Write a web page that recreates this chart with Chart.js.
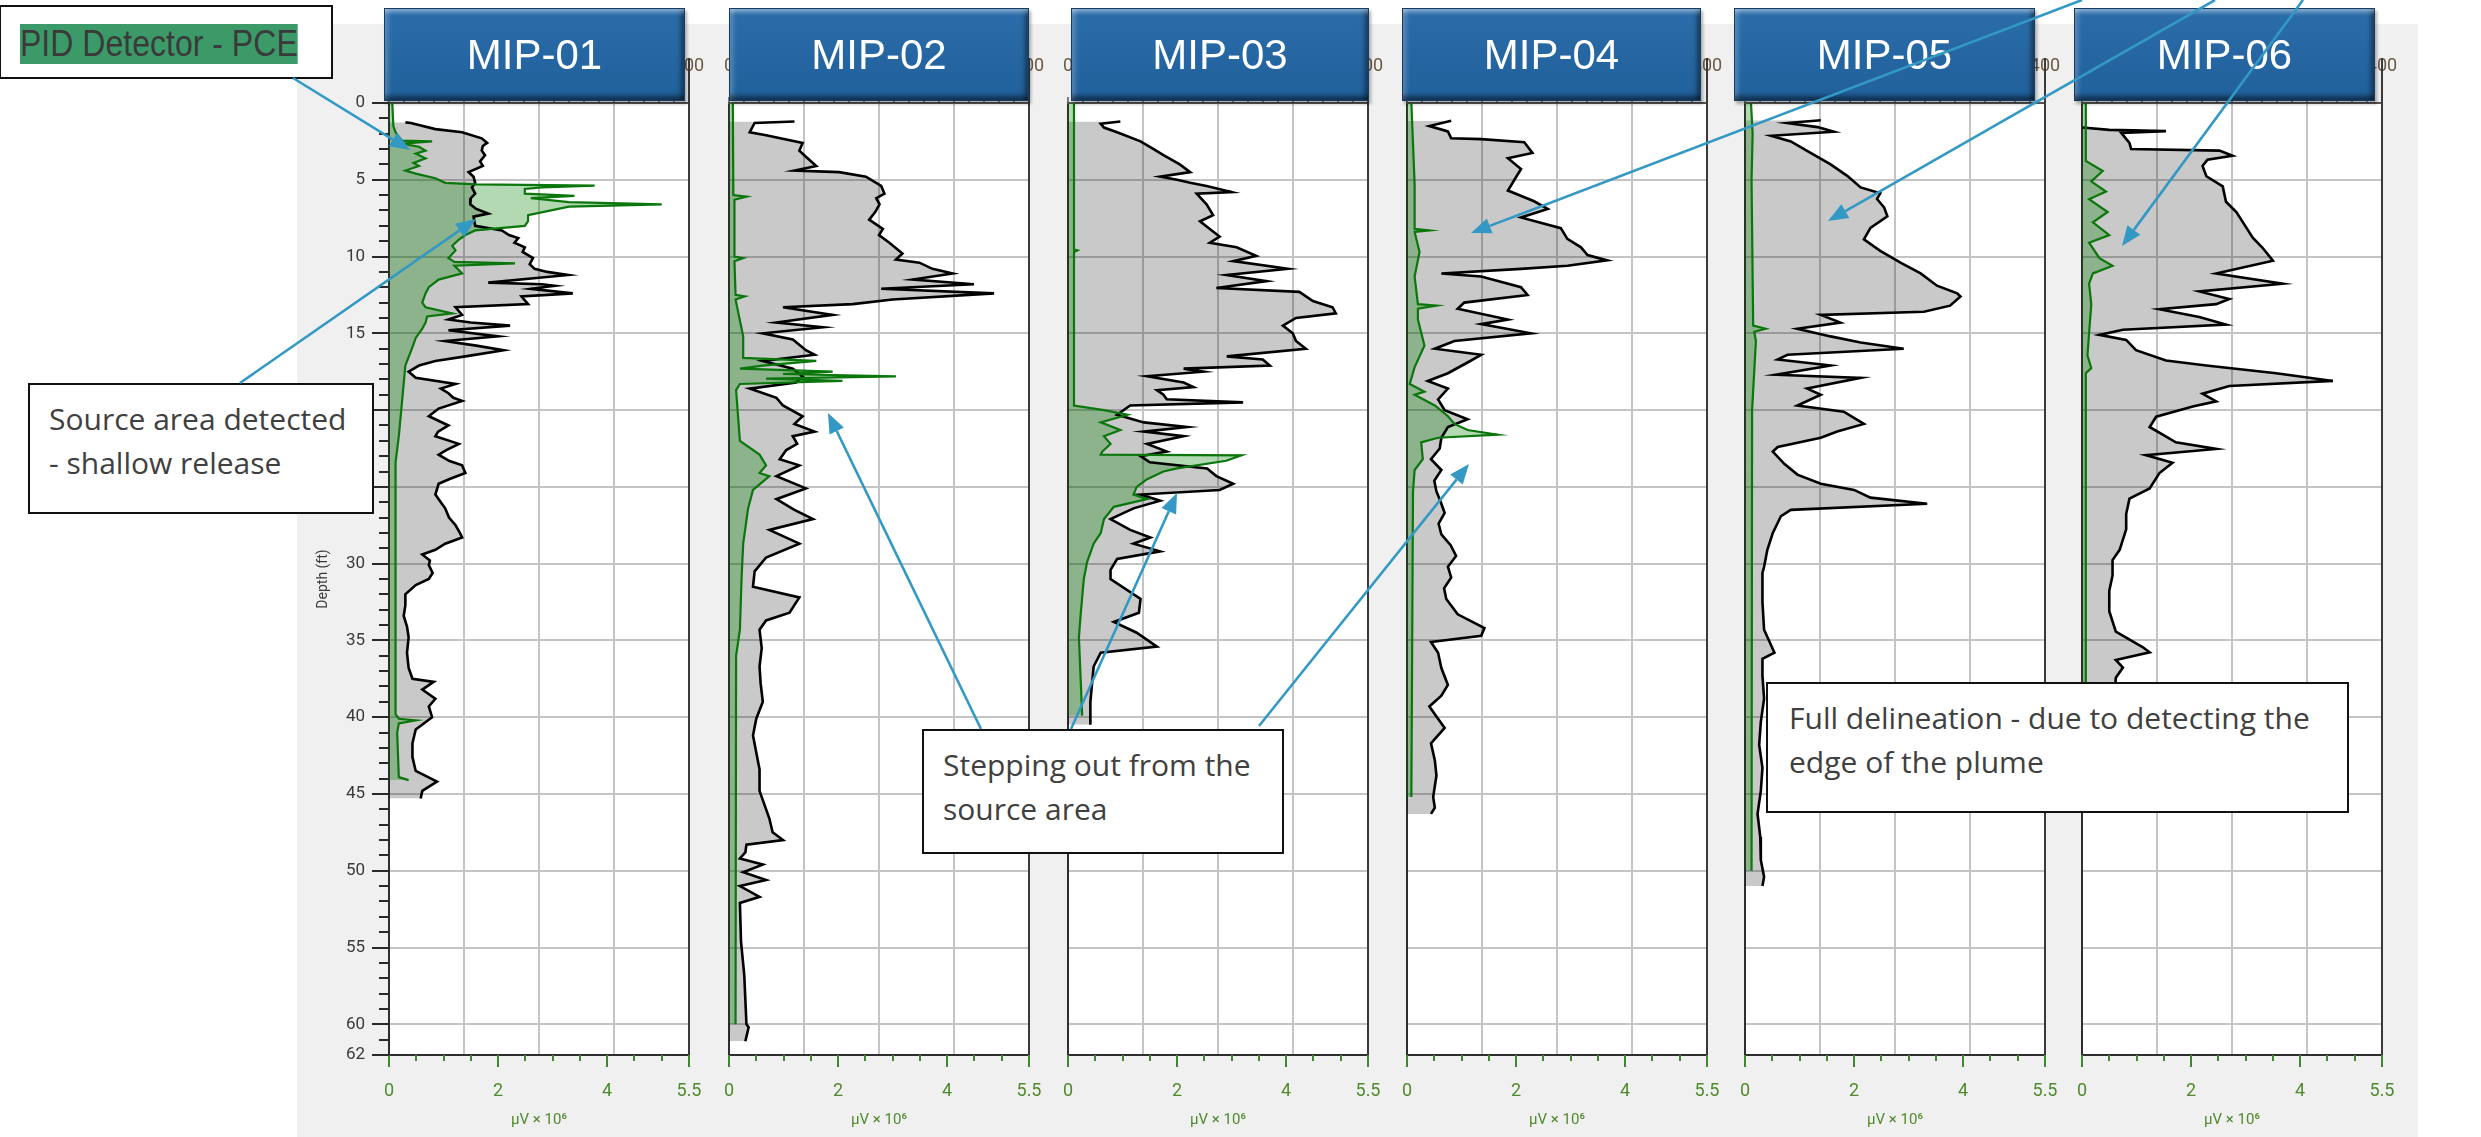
<!DOCTYPE html>
<html>
<head>
<meta charset="utf-8">
<script src="https://cdn.jsdelivr.net/npm/chart.js@4.4.1/dist/chart.umd.min.js"></script>
<style>
  body { margin: 0; width: 2481px; height: 1137px; background: #fff; position: relative; overflow: hidden; font-family: 'Open Sans', sans-serif; }
  #bg { position: absolute; left: 297px; top: 24px; width: 2121px; height: 1113px; background: #f0f0f0; }
  canvas { position: absolute; top: 0; }
  .title { position: absolute; top: 8px; height: 93px; box-sizing: border-box; background: linear-gradient(#2b6daa, #20609b); border: 1px solid #163d66;
    box-shadow: inset 0 6px 4px -3px rgba(255,255,255,.45), inset 0 -7px 5px -3px rgba(0,0,0,.5), inset 7px 0 5px -4px rgba(255,255,255,.25), inset -7px 0 5px -4px rgba(0,0,0,.45), 2px 3px 3px rgba(0,0,0,.3);
    color: #fff; font: 42px 'Liberation Sans', Arial, sans-serif; display: flex; align-items: center; justify-content: center; }
  .note { position: absolute; box-sizing: border-box; background: #fff; border: 2px solid #111; color: #404040; font-size: 30px; line-height: 44px; }
  #pid { position: absolute; left: 19px; top: 17px; height: 40px; background: #3b9a68; color: #3a3a3a; font: 36px 'Liberation Sans', Arial, sans-serif; line-height: 40px; transform-origin: left top; transform: scaleX(0.89); white-space: nowrap; }
  svg { position: absolute; left: 0; top: 0; }
</style>
</head>
<body>
<div id="bg"></div>

<script>
const wells = ['MIP-01', 'MIP-02', 'MIP-03', 'MIP-04', 'MIP-05', 'MIP-06'];
const depthLabels = [0, 5, 10, 15, 20, 25, 30, 35, 40, 45, 50, 55, 60, 62];
const valueLabels = [0, 2, 4, 5.5];
const topLabels = [0, 100, 200, 300, 400];
const topGrid = [100, 200, 300];

// [depth (ft), signal (µV x 10^6)]
const mip01Black = [[1.26,0.30],[1.3,0.4],[1.7,0.85],[1.9,1.34],[2.3,1.7],[2.6,1.8],[2.8,1.72],[3.1,1.7],[3.4,1.76],[3.8,1.67],[4.1,1.72],[4.5,1.46],[4.8,1.55],[5.2,1.58],[5.5,1.52],[5.9,1.58],[6.2,1.5],[6.6,1.49],[6.9,1.6],[7.2,1.82],[7.4,1.55],[8.0,1.58],[8.3,2.07],[8.6,2.2],[8.8,2.37],[9.1,2.3],[9.4,2.49],[9.7,2.45],[10.1,2.64],[10.5,2.58],[10.8,2.67],[11.0,2.9],[11.2,3.28],[11.4,2.7],[11.7,1.82],[11.8,2.8],[11.9,3.04],[12.1,2.6],[12.4,3.37],[12.6,2.43],[13.1,2.55],[13.3,1.22],[13.8,1.34],[14.1,1.09],[14.3,1.5],[14.5,2.22],[14.8,1.09],[15.2,2.0],[15.5,1.03],[15.8,1.6],[16.1,2.1],[16.5,1.4],[16.8,0.85],[17.1,0.55],[17.5,0.36],[17.9,0.49],[18.3,1.22],[18.6,0.95],[18.9,1.09],[19.2,1.18],[19.4,1.34],[19.9,0.91],[20.4,0.73],[21.0,1.09],[21.4,0.9],[21.7,0.85],[22.2,1.28],[22.6,1.05],[22.9,0.91],[23.3,1.1],[23.6,1.34],[24.1,1.4],[24.5,1.1],[24.8,0.91],[25.5,0.85],[26.0,0.95],[26.4,1.03],[27.0,1.1],[27.5,1.22],[28.0,1.3],[28.3,1.34],[28.7,1.03],[29.1,0.85],[29.4,0.61],[29.8,0.75],[30.1,0.73],[30.6,0.8],[31.0,0.73],[31.4,0.49],[32.0,0.30],[32.7,0.3],[33.4,0.27],[34.1,0.33],[34.8,0.36],[35.8,0.33],[36.8,0.36],[37.5,0.43],[37.7,0.82],[38.2,0.61],[38.8,0.85],[39.3,0.73],[40.0,0.79],[40.8,0.49],[41.7,0.43],[42.6,0.43],[43.5,0.49],[44.2,0.88],[44.8,0.61],[45.3,0.58]];
const mip01Pid = [[0,0.06],[1.5,0.08],[1.9,0.12],[2.2,0.18],[2.45,0.24],[2.5,0.79],[2.65,0.24],[2.85,0.55],[3.1,0.67],[3.3,0.49],[3.6,0.67],[3.9,0.45],[4.1,0.55],[4.4,0.3],[4.6,0.49],[4.9,0.85],[5.2,1.03],[5.3,1.6],[5.38,3.77],[5.5,2.8],[5.6,2.49],[5.9,2.49],[6.05,3.4],[6.2,2.6],[6.45,3.3],[6.6,5.0],[6.75,3.3],[7.3,2.55],[7.7,2.55],[8.0,2.49],[8.3,1.58],[8.6,1.4],[8.9,1.28],[9.3,1.16],[9.6,1.22],[10.1,1.09],[10.35,1.2],[10.45,2.31],[10.6,1.2],[11.1,1.34],[11.5,0.91],[12.0,0.73],[12.4,0.67],[13.0,0.61],[13.3,0.67],[13.7,1.16],[13.9,0.7],[14.3,0.67],[14.7,0.61],[15.3,0.49],[15.9,0.43],[17.1,0.3],[19.4,0.24],[21.7,0.18],[23.4,0.12],[30,0.12],[39.8,0.12],[40.1,0.18],[40.2,0.49],[40.4,0.18],[41.0,0.15],[43.9,0.18],[44.1,0.36]];

const mip02Black = [[1.2,1.2],[1.3,0.47],[1.9,0.38],[2.1,0.68],[2.6,1.35],[3.1,1.29],[3.5,1.41],[4.1,1.6],[4.4,1.2],[4.5,2.02],[4.8,2.51],[5.4,2.79],[5.9,2.85],[6.2,2.7],[6.6,2.76],[7.1,2.68],[7.6,2.57],[8.2,2.82],[8.6,2.75],[9.1,2.94],[9.8,3.18],[10.2,3.06],[10.4,3.49],[10.8,3.73],[11.1,4.1],[11.5,3.37],[11.8,4.49],[12.1,2.79],[12.4,4.86],[12.8,3.0],[13.1,2.27],[13.3,0.99],[13.8,1.9],[14.3,0.87],[14.6,1.72],[15.0,0.62],[15.4,1.17],[16.1,1.41],[16.4,1.57],[16.8,0.62],[17.3,1.17],[17.8,1.35],[18.2,1.23],[18.6,0.38],[19.2,0.87],[19.7,0.99],[20.4,1.35],[20.9,1.2],[21.4,1.57],[21.7,1.17],[22.2,1.25],[22.6,1.05],[23.2,0.93],[23.6,1.29],[24.3,0.87],[25.1,1.41],[25.8,0.87],[26.5,1.2],[27.1,1.54],[27.8,0.74],[28.7,1.29],[29.6,0.68],[30.5,0.47],[31.5,0.44],[32.2,1.29],[33.2,1.11],[33.7,0.68],[34.3,0.56],[35.5,0.6],[36.7,0.56],[37.8,0.58],[39.0,0.62],[40.1,0.5],[41.2,0.44],[42.3,0.5],[43.4,0.56],[44.8,0.56],[46.6,0.74],[47.5,0.8],[48.0,0.99],[48.3,0.32],[48.8,0.3],[49.2,0.2],[49.6,0.62],[50.1,0.26],[50.6,0.68],[51.0,0.2],[51.7,0.56],[52.1,0.2],[54.6,0.22],[56.8,0.28],[60,0.32],[60.2,0.36],[61.1,0.3]];
const mip02Pid = [[0,0.07],[6.0,0.08],[6.1,0.32],[6.3,0.1],[10.0,0.1],[10.1,0.26],[10.3,0.1],[12.5,0.12],[12.6,0.29],[12.8,0.12],[15.2,0.26],[16.6,0.26],[16.8,1.6],[17.1,0.62],[17.3,0.2],[17.5,1.9],[17.65,0.99],[17.8,3.06],[17.95,0.68],[18.1,2.08],[18.3,0.2],[18.7,0.13],[22.0,0.2],[22.9,0.56],[23.6,0.68],[24.1,0.56],[24.3,0.74],[25.2,0.44],[26.4,0.35],[28.7,0.26],[31,0.23],[34.3,0.2],[36,0.13],[60,0.12]];

const mip03Black = [[1.2,0.96],[1.35,0.6],[1.6,0.66],[1.9,0.9],[2.5,1.33],[3.0,1.57],[3.4,1.75],[4.0,2.05],[4.5,2.24],[4.8,1.69],[5.0,2.0],[5.2,2.24],[5.4,2.54],[5.8,3.0],[5.9,2.36],[6.6,2.54],[7.3,2.66],[7.7,2.42],[8.2,2.6],[8.7,2.78],[9.1,2.6],[9.4,3.09],[9.95,3.45],[10.3,3.03],[10.8,4.03],[11.2,2.91],[11.6,3.64],[12.05,2.72],[12.3,4.24],[12.9,4.49],[13.3,4.85],[13.7,4.91],[14.0,4.18],[14.5,3.94],[15.0,4.12],[15.5,4.18],[16.0,4.36],[16.5,2.91],[16.7,3.57],[17.1,3.7],[17.3,2.12],[17.5,2.48],[17.8,1.45],[18.2,2.12],[18.5,2.3],[18.7,1.63],[19.0,1.75],[19.3,1.81],[19.5,3.21],[19.7,1.14],[20.3,0.9],[20.8,1.39],[21.1,2.18],[21.4,1.39],[21.7,2.12],[22.2,1.45],[22.7,1.81],[23.0,1.33],[23.4,1.5],[23.8,2.55],[24.3,2.72],[24.8,3.03],[25.2,2.78],[25.5,1.33],[25.9,1.69],[26.4,1.2],[27.1,0.78],[27.8,1.14],[28.3,1.51],[28.7,1.2],[29.2,1.69],[29.7,0.9],[30.4,0.78],[31.0,0.78],[32.3,1.33],[33.2,1.3],[33.8,0.84],[34.5,1.26],[35.4,1.63],[35.8,0.6],[36.7,0.47],[39.0,0.41],[40.5,0.41]];
const mip03Pid = [[0,0.11],[9.55,0.11],[9.6,0.17],[9.7,0.11],[19.7,0.11],[20.0,0.66],[20.3,1.09],[20.8,0.6],[21.3,0.96],[21.7,0.66],[22.2,0.78],[22.7,0.63],[22.9,0.6],[22.95,3.18],[23.3,2.9],[23.8,2.0],[24.0,1.75],[24.5,1.45],[25.0,1.26],[25.5,1.2],[25.8,1.45],[26.3,0.84],[27.1,0.66],[28.0,0.6],[28.7,0.47],[29.9,0.35],[31.0,0.29],[33.4,0.23],[34.8,0.2],[39.9,0.26]];

const mip04Black = [[1.15,0.81],[1.5,0.41],[1.85,0.75],[2.3,0.81],[2.35,1.36],[2.55,2.15],[3.25,2.3],[3.6,1.85],[4.3,2.09],[5.0,1.97],[5.7,1.85],[6.4,2.33],[6.9,2.58],[7.45,2.09],[8.15,2.82],[8.85,2.94],[9.4,3.19],[9.9,3.31],[10.25,3.67],[10.6,2.94],[10.8,2.09],[11.1,0.63],[11.3,1.36],[12.0,2.09],[12.5,2.21],[13.0,1.05],[13.4,0.93],[14.1,1.85],[14.4,1.36],[15.0,2.27],[15.5,0.87],[16.0,0.51],[16.4,1.36],[16.9,1.11],[17.6,0.75],[18.1,0.38],[18.6,0.75],[19.3,0.57],[20.0,0.69],[20.6,1.11],[21.1,0.75],[21.8,0.63],[22.5,0.6],[23.2,0.44],[23.9,0.63],[24.6,0.5],[25.3,0.54],[26.0,0.62],[26.7,0.69],[27.4,0.58],[28.1,0.63],[28.8,0.8],[29.5,0.9],[30.2,0.75],[30.9,0.81],[31.6,0.68],[32.3,0.72],[33.3,0.93],[34.2,1.42],[34.7,1.36],[35.1,0.44],[35.8,0.57],[36.8,0.63],[37.9,0.75],[38.6,0.63],[39.3,0.41],[40.0,0.55],[40.7,0.69],[41.7,0.44],[42.8,0.51],[43.8,0.54],[45.2,0.48],[45.9,0.51],[46.3,0.44]];
const mip04Pid = [[0,0.08],[5.3,0.14],[8.2,0.14],[8.3,0.41],[8.4,0.14],[9.7,0.23],[11.3,0.14],[13.1,0.2],[13.2,0.54],[13.4,0.2],[14.1,0.2],[15.8,0.32],[17.2,0.14],[18.3,0.05],[18.8,0.32],[19.0,0.14],[19.7,0.51],[20.4,0.75],[20.9,0.87],[21.3,1.11],[21.6,1.66],[21.8,0.57],[22.1,0.26],[23.2,0.29],[23.9,0.14],[25.3,0.11],[45.2,0.08]];

const mip05Black = [[1.12,1.39],[1.3,0.78],[1.57,1.33],[1.87,1.63],[2.13,0.48],[2.5,0.84],[3.26,1.21],[4.0,1.57],[4.76,1.88],[5.5,2.12],[5.88,2.48],[6.25,2.42],[6.8,2.55],[7.38,2.61],[8.13,2.3],[8.88,2.18],[9.63,2.48],[10.4,2.85],[11.1,3.22],[11.9,3.52],[12.4,3.89],[12.6,3.95],[13.2,3.76],[13.6,3.28],[13.8,1.39],[14.3,1.75],[14.7,0.96],[15.2,1.57],[15.6,2.12],[16.0,2.91],[16.4,0.78],[16.7,0.6],[17.1,1.57],[17.7,0.57],[17.9,2.12],[18.6,1.14],[19.0,1.39],[19.7,0.96],[20.1,1.81],[20.9,2.18],[21.4,1.69],[21.8,1.39],[22.4,0.6],[22.7,0.51],[23.5,0.72],[24.2,0.96],[24.8,1.39],[25.2,2.0],[25.7,2.3],[26.1,3.34],[26.5,0.84],[26.9,0.66],[28.0,0.51],[29.1,0.41],[30.2,0.35],[30.6,0.32],[32.5,0.32],[34.3,0.35],[35.8,0.54],[36.2,0.32],[37.3,0.32],[38.8,0.35],[40.3,0.29],[41.8,0.26],[43.3,0.32],[44.8,0.29],[46.3,0.23],[47.8,0.28],[49.3,0.29],[50.4,0.35],[51.0,0.32]];
const mip05Pid = [[0,0.11],[2.0,0.14],[5.0,0.12],[14.5,0.15],[14.7,0.38],[14.9,0.17],[15.5,0.2],[20,0.13],[50,0.12]];

const mip06Black = [[1.6,0.01],[1.75,0.5],[1.83,1.54],[1.95,0.72],[2.6,0.87],[3.0,0.9],[3.1,2.52],[3.43,2.76],[3.7,2.3],[4.1,2.21],[4.77,2.28],[5.43,2.58],[6.43,2.64],[7.1,2.83],[8.1,3.01],[8.77,3.13],[9.43,3.31],[10.27,3.5],[11.1,2.46],[11.77,3.68],[12.27,2.15],[12.77,2.7],[13.1,2.46],[13.43,1.42],[13.93,2.15],[14.43,2.64],[14.77,0.75],[15.1,0.32],[15.43,0.81],[16.1,0.99],[16.77,1.54],[17.1,2.28],[17.6,3.56],[18.1,4.6],[18.43,2.7],[18.93,2.21],[19.43,2.46],[19.77,2.03],[20.43,1.36],[21.1,1.24],[22.1,1.72],[22.53,2.46],[22.93,1.17],[23.43,1.66],[24.1,1.42],[25.1,1.24],[25.77,0.87],[26.77,0.81],[27.77,0.81],[29.1,0.69],[29.77,0.56],[30.77,0.56],[31.77,0.5],[33.1,0.5],[34.43,0.62],[35.43,1.11],[35.77,1.24],[36.27,0.62],[36.77,0.75],[37.43,0.62],[38.5,0.6]];
const mip06Pid = [[0,0.07],[3.77,0.07],[4.43,0.38],[5.1,0.17],[5.77,0.44],[6.27,0.13],[7.1,0.47],[7.77,0.2],[8.6,0.5],[9.1,0.13],[10.1,0.32],[10.6,0.56],[11.1,0.2],[11.77,0.13],[13.1,0.17],[16.43,0.1],[17.27,0.17],[17.6,0.07],[38.5,0.07]];

const blackSeries = [mip01Black, mip02Black, mip03Black, mip04Black, mip05Black, mip06Black];
const pidSeries = [mip01Pid, mip02Pid, mip03Pid, mip04Pid, mip05Pid, mip06Pid];

// layout
const PLOT_LEFT = [389, 729, 1068, 1407, 1745, 2082];
const TITLE_BOX = [[384, 301], [729, 300], [1071, 298], [1402, 299], [1734, 301], [2074, 301]];
const PLOT_W = 300, AXIS_W = 80, PAD_R = 40, H = 1137;
const GRID = '#c4c4c4';
const GREEN_TXT = '#4f8a2c';

const frame = {
  id: 'frame',
  beforeDraw(chart) {
    const {ctx, chartArea: a} = chart;
    ctx.save();
    ctx.fillStyle = '#fff';
    ctx.fillRect(a.left, a.top, a.right - a.left, a.bottom - a.top);
    ctx.restore();
  },
  afterDraw(chart, args, opts) {
    const {ctx, chartArea: a, scales} = chart;
    ctx.save();
    ctx.lineWidth = 2;
    ctx.strokeStyle = '#3a3a3a';
    ctx.beginPath();
    ctx.moveTo(a.right, a.top - 45);
    ctx.lineTo(a.right, a.bottom);
    ctx.stroke();
    // bottom ticks
    ctx.strokeStyle = '#3f8a2e';
    for (let i = 0; i <= 11; i++) {
      const v = i * 0.5;
      const px = Math.round(scales.x.getPixelForValue(v));
      const len = valueLabels.includes(v) ? 12 : 6;
      ctx.beginPath();
      ctx.moveTo(px, a.bottom);
      ctx.lineTo(px, a.bottom + len);
      ctx.stroke();
    }
    // depth ticks
    if (opts.depthTicks) {
      ctx.strokeStyle = '#2a2a2a';
      for (let d = 0; d <= 62; d++) {
        const py = Math.round(scales.y.getPixelForValue(d));
        const len = depthLabels.includes(d) ? 17 : 10;
        ctx.beginPath();
        ctx.moveTo(a.left - len, py);
        ctx.lineTo(a.left, py);
        ctx.stroke();
      }
    }
    ctx.restore();
  }
};

function makePanel(i) {
  const cv = document.createElement('canvas');
  cv.width = AXIS_W + PLOT_W + PAD_R;
  cv.height = H;
  cv.style.left = (PLOT_LEFT[i] - AXIS_W) + 'px';
  document.body.appendChild(cv);
  const first = i === 0;

  new Chart(cv, {
    type: 'line',
    data: {
      datasets: [{
        label: 'PID',
        data: pidSeries[i].map(([d, v]) => ({x: v, y: d})),
        borderColor: '#0b760b',
        borderWidth: 2.2,
        backgroundColor: 'rgba(0,128,0,0.3)',
        fill: 'origin',
        pointRadius: 0,
        order: 0
      }, {
        label: 'Signal',
        data: blackSeries[i].map(([d, v]) => ({x: v, y: d})),
        borderColor: '#000',
        borderWidth: 2.6,
        backgroundColor: 'rgba(0,0,0,0.21)',
        fill: 'origin',
        pointRadius: 0,
        order: 1
      }]
    },
    options: {
      indexAxis: 'y',
      responsive: false,
      animation: false,
      devicePixelRatio: 1,
      layout: {padding: {left: 0, right: PAD_R, top: 0, bottom: 0}},
      plugins: {
        legend: {display: false},
        tooltip: {enabled: false},
        filler: {drawTime: 'beforeDatasetsDraw'},
        frame: {depthTicks: first}
      },
      scales: {
        y: {
          type: 'linear',
          reverse: true,
          min: 0,
          max: 62,
          afterBuildTicks: s => { s.ticks = []; for (let d = 0; d <= 62; d++) s.ticks.push({value: d}); },
          afterFit: s => { s.width = AXIS_W; },
          ticks: {
            display: first,
            autoSkip: false,
            padding: 24,
            color: '#3a3a3a',
            font: {family: 'Roboto', size: 17},
            callback: v => depthLabels.includes(v) ? String(v) : ''
          },
          grid: {
            drawTicks: false,
            lineWidth: 2,
            color: c => (c.tick && c.tick.value % 5 === 0 && c.tick.value > 0 && c.tick.value < 62) ? GRID : 'rgba(0,0,0,0)'
          },
          border: {color: '#2e2e2e', width: 2},
          title: {display: first, text: 'Depth (ft)', color: '#3a3a3a', font: {family: 'Roboto', size: 14}, padding: 6}
        },
        x: {
          type: 'linear',
          position: 'bottom',
          min: 0,
          max: 5.5,
          afterBuildTicks: s => { s.ticks = []; for (let k = 0; k <= 11; k++) s.ticks.push({value: k * 0.5}); },
          afterFit: s => { s.height = 82; },
          ticks: {
            autoSkip: false,
            maxRotation: 0,
            padding: 18,
            color: GREEN_TXT,
            font: {family: 'Roboto', size: 18},
            callback: v => valueLabels.includes(v) ? String(v) : ''
          },
          grid: {display: false},
          border: {color: '#2e2e2e', width: 2},
          title: {display: true, text: 'µV × 10⁶', color: GREEN_TXT, font: {family: 'Roboto', size: 15}, padding: {top: 0, bottom: 8}}
        },
        x2: {
          type: 'linear',
          axis: 'x',
          position: 'top',
          min: 0,
          max: 400,
          afterBuildTicks: s => { s.ticks = []; for (let k = 0; k <= 20; k++) s.ticks.push({value: k * 20}); },
          afterFit: s => { s.height = 103; },
          ticks: {
            autoSkip: false,
            maxRotation: 0,
            padding: 20,
            color: '#6b5840',
            font: {family: 'Roboto', size: 18},
            callback: v => topLabels.includes(v) ? String(v) : ''
          },
          grid: {
            lineWidth: 2,
            drawTicks: true,
            tickLength: 6,
            tickColor: '#555',
            tickWidth: 1.5,
            color: c => (c.tick && topGrid.includes(c.tick.value)) ? GRID : 'rgba(0,0,0,0)'
          },
          border: {color: '#555', width: 2}
        }
      }
    },
    plugins: [frame]
  });

  const t = document.createElement('div');
  t.className = 'title';
  t.style.left = TITLE_BOX[i][0] + 'px';
  t.style.width = TITLE_BOX[i][1] + 'px';
  t.textContent = wells[i];
  document.body.appendChild(t);
}

wells.forEach((w, i) => makePanel(i));

// text boxes
const notes = [
  {left: -1, top: 5, w: 334, h: 74, html: ''},
  {left: 28, top: 383, w: 346, h: 131, pad: '12px 0 0 19px', html: 'Source area detected<br>- shallow release'},
  {left: 922, top: 729, w: 362, h: 125, pad: '12px 0 0 19px', html: 'Stepping out from the<br>source area'},
  {left: 1766, top: 682, w: 583, h: 131, pad: '12px 0 0 21px', html: 'Full delineation - due to detecting the<br>edge of the plume'}
];
notes.forEach((n, k) => {
  const d = document.createElement('div');
  d.className = 'note';
  Object.assign(d.style, {left: n.left + 'px', top: n.top + 'px', width: n.w + 'px', height: n.h + 'px', padding: n.pad || '0'});
  d.innerHTML = n.html;
  if (k === 0) {
    const s = document.createElement('span');
    s.id = 'pid';
    s.textContent = 'PID Detector - PCE';
    d.appendChild(s);
  }
  document.body.appendChild(d);
});

// callout arrows [x1, y1, tipX, tipY]
const arrows = [
  [293, 78, 410, 150],
  [240, 383, 476, 219],
  [981, 729, 828, 413],
  [1071, 729, 1177, 493],
  [1259, 726, 1469, 464],
  [2082, 0, 1471, 233],
  [2215, 0, 1828, 221],
  [2303, 0, 2122, 246]
];
const NS = 'http://www.w3.org/2000/svg';
const svg = document.createElementNS(NS, 'svg');
svg.setAttribute('width', 2481);
svg.setAttribute('height', 1137);
arrows.forEach(([x1, y1, x2, y2]) => {
  const ang = Math.atan2(y2 - y1, x2 - x1);
  const L = 20, W = 8;
  const bx = x2 - L * Math.cos(ang), by = y2 - L * Math.sin(ang);
  const line = document.createElementNS(NS, 'line');
  line.setAttribute('x1', x1); line.setAttribute('y1', y1);
  line.setAttribute('x2', bx); line.setAttribute('y2', by);
  line.setAttribute('stroke', '#3399c4');
  line.setAttribute('stroke-width', 2.6);
  svg.appendChild(line);
  const head = document.createElementNS(NS, 'polygon');
  const px = -Math.sin(ang) * W, py = Math.cos(ang) * W;
  head.setAttribute('points', `${x2},${y2} ${bx + px},${by + py} ${bx - px},${by - py}`);
  head.setAttribute('fill', '#3399c4');
  svg.appendChild(head);
});
document.body.appendChild(svg);
</script>
</body>
</html>
